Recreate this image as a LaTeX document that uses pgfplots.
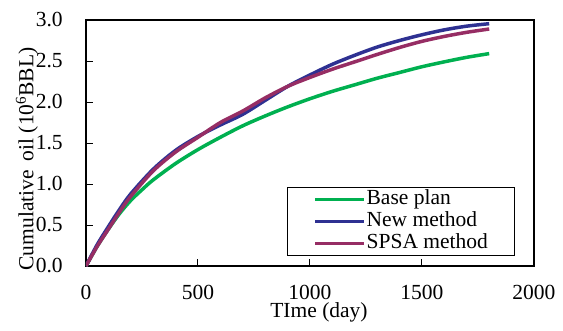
\documentclass[border=0pt]{standalone}
\usepackage{fontspec}
\setmainfont{Liberation Serif}
\usepackage{pgfplots}
\pgfplotsset{compat=1.18}
\definecolor{cgreen}{RGB}{0,176,80}
\definecolor{cblue}{RGB}{46,49,146}
\definecolor{cpurple}{RGB}{150,45,100}
\begin{document}
\fontsize{21.5}{24}\selectfont
\begin{tikzpicture}
\useasboundingbox (-86pt,-64pt) rectangle (477pt,266pt);
\begin{axis}[
  scale only axis, width=448pt, height=246pt,
  xmin=0, xmax=2000, ymin=0, ymax=3,
  xtick={0,500,1000,1500,2000},
  ytick={0,0.5,1,1.5,2,2.5,3},
  tick align=inside, tick pos=left,
  major tick length=7pt,
  every tick/.style={black, line width=1pt},
  axis line style={line width=1.5pt},
  /pgf/number format/assume math mode=true,
  yticklabel style={xshift=-16pt, /pgf/number format/fixed, /pgf/number format/fixed zerofill, /pgf/number format/precision=1},
  xticklabel style={anchor=base, inner sep=0pt, yshift=-33pt, /pgf/number format/fixed, /pgf/number format/1000 sep={}},
  xlabel={TIme (day)},
  ylabel={Cumulative\, oil (10\textsuperscript{6}BBL)},
  xlabel style={at={(axis description cs:0.52,-0.208)}, anchor=base, inner sep=0pt},
  ylabel style={at={(axis description cs:-0.132,0.435)}, anchor=center},
  legend style={at={(axis description cs:0.449,0.321)}, anchor=north west,
    draw=black, line width=1pt, inner xsep=26pt, inner ysep=2pt,
    nodes={inner ysep=0pt, inner xsep=1pt, text height=14.5pt, text depth=4.5pt},
    row sep=3.3pt},
  legend cell align=left,
  legend image code/.code={\draw[#1, line width=3pt] (0pt,0pt) -- (49pt,0pt);},
  every axis plot/.append style={line width=3.5pt, no markers, smooth},
]
\addplot[cgreen] coordinates {
(0,0) (50,0.24) (100,0.45) (150,0.64) (200,0.80) (250,0.93) (300,1.05) (400,1.25) (500,1.42)
(600,1.57) (700,1.71) (800,1.83) (900,1.94) (1000,2.04) (1100,2.13) (1200,2.21)
(1300,2.29) (1400,2.36) (1500,2.43) (1600,2.49) (1700,2.545) (1800,2.59)};
\addlegendentry{Base plan}
\addplot[cblue] coordinates {
(0,0) (50,0.26) (100,0.48) (150,0.69) (200,0.88) (300,1.18) (400,1.41) (500,1.58)
(600,1.72) (700,1.85) (800,2.02) (900,2.19) (1000,2.33) (1100,2.46) (1200,2.57)
(1300,2.67) (1400,2.75) (1500,2.82) (1600,2.88) (1700,2.925) (1800,2.955)};
\addlegendentry{New method}
\addplot[cpurple] coordinates {
(0,0) (50,0.24) (100,0.45) (150,0.66) (200,0.85) (300,1.16) (400,1.39) (500,1.57)
(600,1.75) (700,1.89) (800,2.05) (900,2.19) (1000,2.30) (1100,2.40) (1200,2.49)
(1300,2.58) (1400,2.665) (1500,2.74) (1600,2.80) (1700,2.85) (1800,2.89)};
\addlegendentry{SPSA method}
\end{axis}
\end{tikzpicture}
\end{document}
